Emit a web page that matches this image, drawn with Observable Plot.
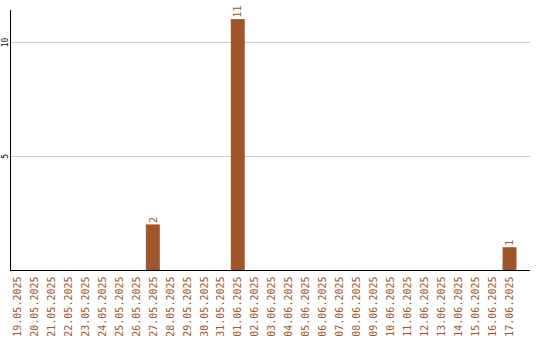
<!DOCTYPE html>
<html>
<head>
<meta charset="utf-8">
<script src="https://cdn.jsdelivr.net/npm/d3@7"></script>
<script src="https://cdn.jsdelivr.net/npm/@observablehq/plot@0.6"></script>
<style>
  html, body { margin: 0; padding: 0; background: #fff; }
  #chart svg { display: block; }
</style>
</head>
<body>
<div id="chart"></div>
<script>
// Daily counts, 19.05.2025 – 17.06.2025
const days = [
  "19.05.2025", "20.05.2025", "21.05.2025", "22.05.2025", "23.05.2025",
  "24.05.2025", "25.05.2025", "26.05.2025", "27.05.2025", "28.05.2025",
  "29.05.2025", "30.05.2025", "31.05.2025", "01.06.2025", "02.06.2025",
  "03.06.2025", "04.06.2025", "05.06.2025", "06.06.2025", "07.06.2025",
  "08.06.2025", "09.06.2025", "10.06.2025", "11.06.2025", "12.06.2025",
  "13.06.2025", "14.06.2025", "15.06.2025", "16.06.2025", "17.06.2025"
];
const counts = [
  0, 0, 0, 0, 0, 0, 0, 0, 2, 0,
  0, 0, 0, 11, 0, 0, 0, 0, 0, 0,
  0, 0, 0, 0, 0, 0, 0, 0, 0, 1
];
const yTicks = [5, 10];

const rows = days.map((day, i) => ({day, count: counts[i]}));
const barColor = "#a0552a";
const mono = "'DejaVu Sans Mono', 'Liberation Mono', monospace";

const chart = Plot.plot({
  width: 540,
  height: 340,
  marginLeft: 10,
  marginRight: 10,
  marginTop: 10,
  marginBottom: 70,
  style: {fontFamily: mono, background: "#fff"},
  x: {type: "band", domain: days, range: [10, 516.5], paddingInner: 0.18, paddingOuter: 0, align: 0.5, round: false},
  y: {domain: [0, 11.4], range: [270, 10]},
  marks: [
    Plot.ruleY(yTicks, {stroke: "#c8c8c8", strokeWidth: 1}),
    Plot.barY(rows, {x: "day", y: "count", fill: barColor}),
    Plot.text(rows.filter(d => d.count > 0), {
      x: "day", y: "count", text: d => String(d.count),
      rotate: -90, textAnchor: "start", lineAnchor: "middle",
      dy: -2, fill: barColor, fontSize: 10, fontFamily: mono
    }),
    Plot.text(yTicks, {
      y: d => d, text: d => String(d), frameAnchor: "left",
      dx: -5, rotate: -90, textAnchor: "middle", lineAnchor: "middle",
      fill: "#000", fontSize: 8, fontFamily: mono
    }),
    Plot.axisX({
      tickSize: 0, tickPadding: 6, tickRotate: -90, label: null,
      fill: barColor, fontSize: 10, fontFamily: mono
    }),
    Plot.axisY({ticks: [], label: null, tickSize: 0}),
    Plot.ruleY([0], {stroke: "#000", strokeWidth: 1}),
    Plot.frame({anchor: "left", stroke: "#000", strokeWidth: 1})
  ]
});

document.getElementById("chart").appendChild(chart);
</script>
</body>
</html>
